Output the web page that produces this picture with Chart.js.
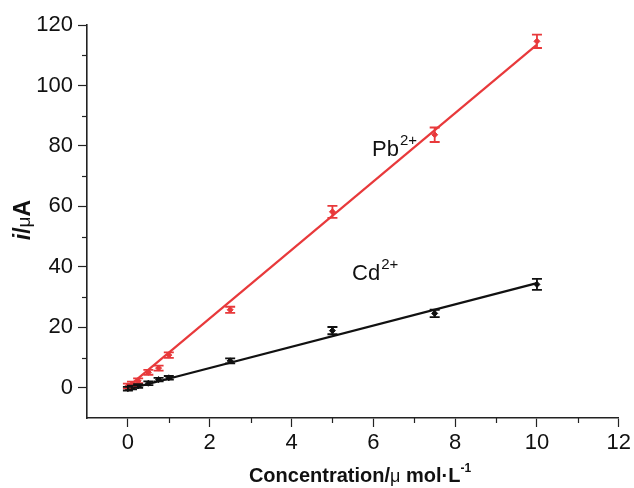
<!DOCTYPE html>
<html>
<head>
<meta charset="utf-8">
<script src="https://cdn.jsdelivr.net/npm/chart.js@4/dist/chart.umd.min.js"></script>
<style>
  html, body { margin: 0; padding: 0; background: #fff; }
  #wrap { width: 634px; height: 488px; position: relative; }
</style>
</head>
<body>
<div id="wrap"><canvas id="c"></canvas></div>
<script>
// concentrations (µmol/L)
const conc = [0, 0.1, 0.25, 0.5, 0.75, 1, 2.5, 5, 7.5, 10];
// peak currents (µA)
const pbVals = [0.6, 1.2, 2.3, 5.1, 6.5, 10.8, 25.8, 58.2, 83.7, 114.6];
const pbErr  = [0.8, 0.8, 0.8, 0.8, 0.8, 0.9, 1.0, 2.0, 2.4, 2.2];
const cdVals = [-0.3, 0.1, 0.6, 1.5, 2.7, 3.3, 8.9, 18.9, 24.6, 34.2];
const cdErr  = [0.6, 0.6, 0.6, 0.6, 0.6, 0.6, 0.8, 1.2, 1.2, 1.8];
// fitted lines, end points
const fitX  = [0, 10];
const pbFit = [0.3, 113.5];
const cdFit = [-0.5, 34.6];

const RED = '#e8393b';
const BLK = '#111111';
const FONT = '"Liberation Sans", Arial, sans-serif';

const pts = (xs, ys) => xs.map((x, i) => ({ x, y: ys[i] }));

// error bars with caps
const errorBars = {
  id: 'errorBars',
  afterDatasetsDraw(chart) {
    const { ctx, scales: { x, y } } = chart;
    [[pbVals, pbErr, RED], [cdVals, cdErr, BLK]].forEach(([vals, errs, col]) => {
      ctx.save();
      ctx.strokeStyle = col;
      ctx.lineWidth = 1.8;
      vals.forEach((v, i) => {
        const px = x.getPixelForValue(conc[i]);
        const top = y.getPixelForValue(v + errs[i]);
        const bot = y.getPixelForValue(v - errs[i]);
        ctx.beginPath();
        ctx.moveTo(px, top); ctx.lineTo(px, bot);
        ctx.moveTo(px - 5, top); ctx.lineTo(px + 5, top);
        ctx.moveTo(px - 5, bot); ctx.lineTo(px + 5, bot);
        ctx.stroke();
      });
      ctx.restore();
    });
  }
};

// minor ticks, series labels, axis titles
const decorations = {
  id: 'decorations',
  afterDraw(chart) {
    const { ctx, scales: { x, y } } = chart;
    ctx.save();
    ctx.strokeStyle = '#222';
    ctx.lineWidth = 1.2;
    for (let v = 1; v <= 11; v += 2) {
      const px = Math.round(x.getPixelForValue(v)) + 0.5;
      ctx.beginPath(); ctx.moveTo(px, y.bottom); ctx.lineTo(px, y.bottom + 5); ctx.stroke();
    }
    for (let v = 10; v <= 110; v += 20) {
      const py = Math.round(y.getPixelForValue(v)) + 0.5;
      ctx.beginPath(); ctx.moveTo(x.left, py); ctx.lineTo(x.left - 5, py); ctx.stroke();
    }

    // Pb2+ / Cd2+ labels
    const sup = (base, s, xv, yv) => {
      const px = x.getPixelForValue(xv), py = y.getPixelForValue(yv);
      ctx.fillStyle = '#111';
      ctx.textBaseline = 'alphabetic';
      ctx.textAlign = 'left';
      ctx.font = `22px ${FONT}`;
      ctx.fillText(base, px, py);
      const w = ctx.measureText(base).width;
      ctx.font = `15px ${FONT}`;
      ctx.fillText(s, px + w + 1, py - 11);
    };
    sup('Pb', '2+', 5.97, 76.7);
    sup('Cd', '2+', 5.48, 35.8);

    // x title
    ctx.fillStyle = '#111';
    ctx.textBaseline = 'alphabetic';
    const parts = [
      ['Concentration/', `bold 20px ${FONT}`, 0],
      ['\u03bc', `18px ${FONT}`, 0],
      [' mol\u00b7L', `bold 20px ${FONT}`, 0],
      ['-1', `bold 12px ${FONT}`, -10]
    ];
    let total = 0;
    parts.forEach(p => { ctx.font = p[1]; total += ctx.measureText(p[0]).width; });
    let cx = 360 - total / 2;
    parts.forEach(p => {
      ctx.font = p[1];
      ctx.textAlign = 'left';
      ctx.fillText(p[0], cx, 482 + p[2]);
      cx += ctx.measureText(p[0]).width;
    });

    // y title, rotated
    ctx.translate(30, 220);
    ctx.rotate(-Math.PI / 2);
    const yp = [
      ['i', `bold italic 23px ${FONT}`],
      ['/', `bold 23px ${FONT}`],
      ['\u03bc', `19px ${FONT}`],
      ['A', `bold 23px ${FONT}`]
    ];
    let yt = 0;
    yp.forEach(p => { ctx.font = p[1]; yt += ctx.measureText(p[0]).width; });
    let yx = -yt / 2;
    yp.forEach(p => {
      ctx.font = p[1];
      ctx.fillText(p[0], yx, 0);
      yx += ctx.measureText(p[0]).width;
    });
    ctx.restore();
  }
};

new Chart(document.getElementById('c'), {
  data: {
    datasets: [
      { type: 'line', data: pts(fitX, pbFit), borderColor: RED, borderWidth: 2.2, pointRadius: 0, order: 2 },
      { type: 'line', data: pts(fitX, cdFit), borderColor: BLK, borderWidth: 2.2, pointRadius: 0, order: 2 },
      { type: 'scatter', data: pts(conc, pbVals), pointStyle: 'rectRot', pointRadius: 3,
        backgroundColor: RED, borderColor: RED, order: 1 },
      { type: 'scatter', data: pts(conc, cdVals), pointStyle: 'rectRot', pointRadius: 3,
        backgroundColor: BLK, borderColor: BLK, order: 1 }
    ]
  },
  options: {
    responsive: true,
    maintainAspectRatio: false,
    animation: false,
    layout: { padding: { top: 25, right: 12, left: 0, bottom: 0 } },
    plugins: { legend: { display: false }, tooltip: { enabled: false } },
    scales: {
      x: {
        type: 'linear', min: -1, max: 12,
        afterFit: s => { s.height = 70; },
        border: { display: true, color: '#222', width: 1.6 },
        grid: { drawOnChartArea: false, tickLength: 9, tickWidth: 1.2,
                tickColor: c => (c.tick && c.tick.value < 0 ? 'rgba(0,0,0,0)' : '#222') },
        ticks: { stepSize: 2, padding: 3, color: '#111', font: { family: FONT, size: 22 },
                 maxRotation: 0, autoSkip: false,
                 callback: v => (v >= 0 ? v : '') }
      },
      y: {
        type: 'linear', min: -10, max: 120,
        afterFit: s => { s.width = 87; },
        border: { display: true, color: '#222', width: 1.6 },
        grid: { drawOnChartArea: false, tickLength: 9, tickWidth: 1.2,
                tickColor: c => (c.tick && c.tick.value < 0 ? 'rgba(0,0,0,0)' : '#222') },
        ticks: { stepSize: 20, padding: 5, color: '#111', font: { family: FONT, size: 22 },
                 autoSkip: false,
                 callback: v => (v >= 0 ? v : '') }
      }
    }
  },
  plugins: [errorBars, decorations]
});
</script>
</body>
</html>
